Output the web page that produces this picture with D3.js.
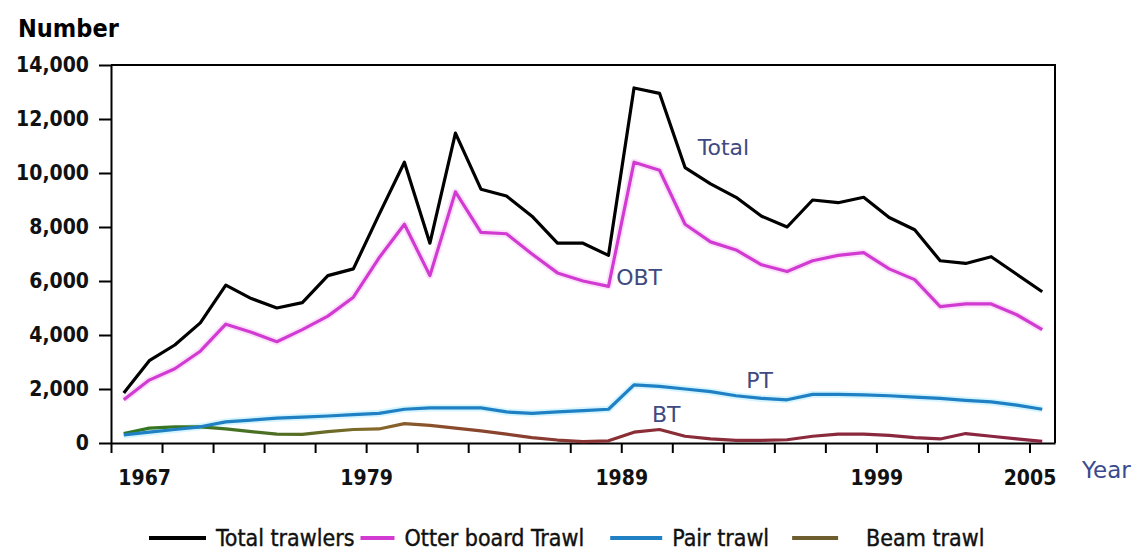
<!DOCTYPE html>
<meta charset="utf-8">
<style>
body { margin: 0; background: #fff; }
svg { display: block; }
.axis path, .axis line { stroke: #000; stroke-width: 2px; }
.axis text { font-family: "DejaVu Sans Condensed", "DejaVu Sans", sans-serif; font-weight: bold; font-size: 21px; fill: #111; }
.series { fill: none; stroke-width: 3.2px; stroke-linejoin: round; }
.glow { fill: none; stroke-width: 7px; stroke-linejoin: round; opacity: .25; }
.note { font-family: "DejaVu Sans", sans-serif; font-size: 22px; fill: #3e4a80; }
.legend text { font-family: "DejaVu Sans Condensed", sans-serif; font-size: 23px; fill: #111; stroke: #111; stroke-width: .4px; }
</style>
<body>
<script src="https://d3js.org/d3.v7.min.js"></script>
<script>

// data, one value per year
let years = [1969, 1970, 1971, 1972, 1973, 1974, 1975, 1976, 1977, 1978,
             1979, 1980, 1981, 1982, 1983, 1984, 1985, 1986, 1987, 1988,
             1989, 1990, 1991, 1992, 1993, 1994, 1995, 1996, 1997, 1998,
             1999, 2000, 2001, 2002, 2003, 2004, 2005];

let total = [1850, 3050, 3630, 4450, 5850, 5350, 5000, 5200, 6200, 6450,
             8450, 10400, 7400, 11480, 9400, 9150, 8400, 7400, 7400, 6950,
             13150, 12950, 10200, 9600, 9100, 8400, 8000, 9000, 8900, 9100,
             8350, 7900, 6750, 6650, 6900, 6250, 5600];

let otter = [1600, 2330, 2750, 3400, 4400, 4100, 3750, 4200, 4700, 5400,
             6850, 8100, 6200, 9300, 7800, 7750, 7000, 6300, 6000, 5800,
             10400, 10100, 8100, 7450, 7150, 6600, 6350, 6750, 6950, 7050,
             6450, 6050, 5050, 5150, 5150, 4750, 4200];

let pair = [300, 400, 500, 600, 780, 850, 920, 960, 1000, 1050,
            1100, 1250, 1300, 1300, 1300, 1150, 1100, 1150, 1200, 1250,
            2150, 2100, 2000, 1900, 1750, 1650, 1600, 1800, 1800, 1780,
            1750, 1700, 1650, 1580, 1520, 1400, 1250];

let beam = [350, 550, 600, 600, 520, 420, 330, 320, 420, 500,
            520, 720, 650, 550, 450, 330, 200, 110, 50, 80,
            400, 500, 250, 150, 100, 100, 120, 250, 330, 330,
            280, 200, 150, 350, 250, 150, 60];

let yTicks = [0, 2000, 4000, 6000, 8000, 10000, 12000, 14000];
let xTickYears = [1969, 1971, 1973, 1975, 1977, 1979, 1981, 1983, 1985, 1987,
                  1989, 1991, 1993, 1995, 1997, 1999, 2001, 2003, 2005];
let xLabelYears = [1970.3, 1979, 1989, 1999, 2005];
let xLabelText = ["1967", "1979", "1989", "1999", "2005"];

let seriesNames = ["Total trawlers", "Otter board Trawl", "Pair trawl", "Beam trawl"];
let seriesColors = ["#000000", "#d13bd1", "#1f80c4", "#6e5d2e"];
let glowColors = [null, "#f090f0", "#60d8ff", null];

let noteText = ["Total", "OBT", "PT", "BT"];
let noteYear = [1992, 1988.8, 1993.9, 1990.2];
let noteValue = [10650, 5850, 2040, 780];

let width = 1139,
    height = 552;

let svg = d3.select("body").append("svg")
	.attr("width", width)
	.attr("height", height);

let x = d3.scaleLinear()
	.domain([1969, 2006])
	.range([111, 1055]);

let y = d3.scaleLinear()
	.domain([0, 14000])
	.range([443, 65]);

// gradient for the beam trawl line (green -> olive -> maroon)
let grad = svg.append("defs").append("linearGradient")
	.attr("id", "beamGrad")
	.attr("gradientUnits", "userSpaceOnUse")
	.attr("x1", x(1969)).attr("x2", x(2006))
	.attr("y1", 0).attr("y2", 0);
[["0%", "#2e7a22"], ["18%", "#4f6e24"], ["28%", "#86682a"], ["36%", "#8a4a2c"],
 ["55%", "#8a2e36"], ["100%", "#8b2442"]].forEach(function(s) {
	grad.append("stop").attr("offset", s[0]).attr("stop-color", s[1]);
});

// frame
svg.append("path")
	.attr("d", "M" + x.range()[0] + "," + y(14000) + "H" + x.range()[1] + "V" + y(0))
	.attr("fill", "none")
	.attr("stroke", "#000")
	.attr("stroke-width", 2);

// y axis
svg.append("g")
	.attr("class", "axis")
	.attr("transform", "translate(" + x.range()[0] + ",0)")
	.call(d3.axisLeft(y).tickValues(yTicks).tickFormat(d3.format(","))
		.tickSize(12).tickSizeOuter(0).tickPadding(10));

// x axis ticks
svg.append("g")
	.attr("class", "axis")
	.attr("transform", "translate(0," + y(0) + ")")
	.call(d3.axisBottom(x).tickValues(xTickYears).tickFormat("")
		.tickSize(10).tickSizeOuter(0));

// x axis labels
let xl = svg.append("g")
	.attr("class", "axis")
	.attr("transform", "translate(0," + y(0) + ")")
	.call(d3.axisBottom(x).tickValues(xLabelYears)
		.tickFormat(function(d, i) { return xLabelText[i]; })
		.tickSize(0).tickPadding(27));
xl.select(".domain").remove();

svg.append("text")
	.attr("x", 18).attr("y", 37)
	.style("font-family", "'DejaVu Sans Condensed', sans-serif")
	.style("font-weight", "bold")
	.style("font-size", "25px")
	.text("Number");

svg.append("text")
	.attr("x", 1082).attr("y", 478)
	.attr("class", "note")
	.style("font-size", "23px")
	.style("fill", "#3b4a8c")
	.text("Year");

// lines
let line = d3.line()
	.x(function(d, i) { return x(years[i] + 0.5); })
	.y(function(d) { return y(d); });

let allSeries = [total, otter, pair, beam];

allSeries.forEach(function(vals, k) {
	if (glowColors[k]) {
		svg.append("path")
			.attr("class", "glow")
			.attr("stroke", glowColors[k])
			.attr("d", line(vals));
	}
});

allSeries.slice().reverse().forEach(function(vals, r) {
	let k = allSeries.length - 1 - r;
	svg.append("path")
		.attr("class", "series")
		.attr("stroke", k === 3 ? "url(#beamGrad)" : seriesColors[k])
		.attr("d", line(vals));
});

// in-chart notes
svg.selectAll("text.note-lbl")
	.data(noteText)
	.enter().append("text")
	.attr("class", "note note-lbl")
	.attr("x", function(d, i) { return x(noteYear[i]); })
	.attr("y", function(d, i) { return y(noteValue[i]); })
	.text(function(d) { return d; });

// legend
let legendLine = [57, 34, 52, 46];
let legendGapAfter = [6, 26, 23, 0];

let legend = svg.append("g")
	.attr("class", "legend")
	.attr("transform", "translate(149,538)");

let lx = 0;
seriesNames.forEach(function(name, i) {
	let g = legend.append("g").attr("transform", "translate(" + lx + ",0)");
	g.append("line")
		.attr("x1", 0).attr("x2", legendLine[i])
		.attr("y1", 0).attr("y2", 0)
		.attr("stroke", seriesColors[i])
		.attr("stroke-width", 4);
	let t = g.append("text")
		.attr("x", legendLine[i] + (i === 3 ? 28 : 10)).attr("y", 8)
		.text(name);
	lx += legendLine[i] + (i === 3 ? 28 : 10) + t.node().getComputedTextLength() + legendGapAfter[i];
});

</script>
</body>
